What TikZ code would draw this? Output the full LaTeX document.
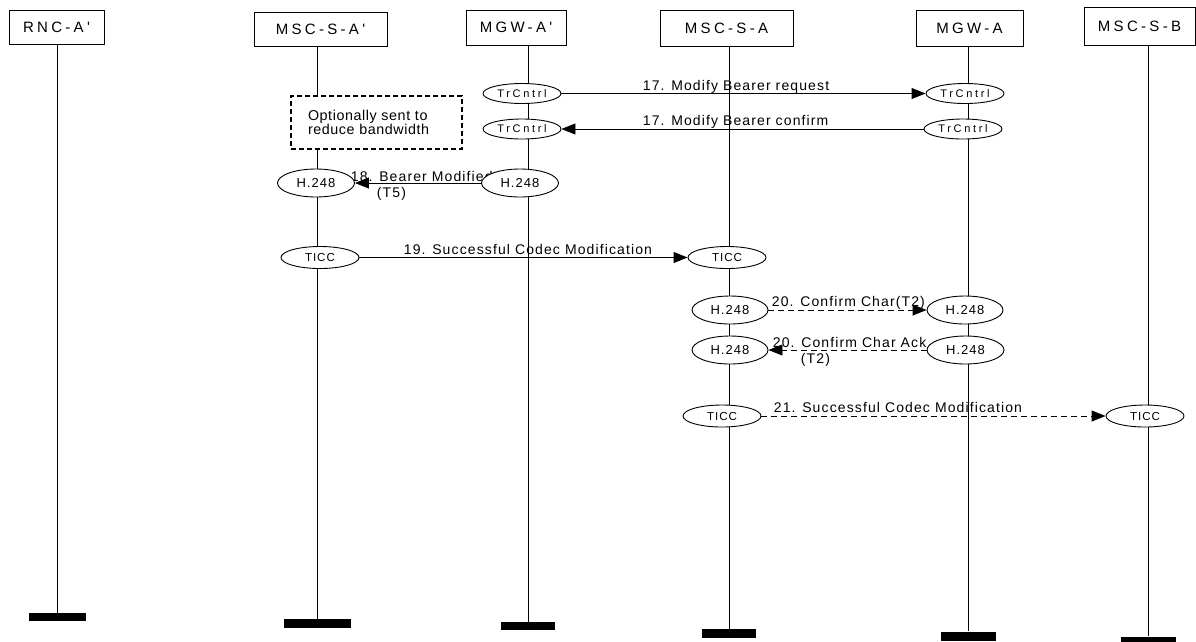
\documentclass[tikz,border=0pt]{standalone}
\usepackage{fontspec}
\newfontfamily\headfont{Liberation Sans}[LetterSpace=22,Ligatures=TeXOff]
\newfontfamily\msgfont{Liberation Sans}[LetterSpace=8]
\newfontfamily\trfont{Liberation Sans}[LetterSpace=24]
\newfontfamily\notefont{Liberation Sans}[LetterSpace=4]
\usetikzlibrary{arrows.meta,positioning,shapes.geometric}
\pgfdeclarelayer{back}
\pgfsetlayers{back,main}

\begin{document}
\begin{tikzpicture}[x=1pt,y=-1pt,
    entity/.style={draw, line width=0.9pt, inner sep=0pt, font=\headfont\fontsize{15}{16}\selectfont},
    func/.style={ellipse, draw, fill=white, line width=0.9pt, inner sep=0pt, font=\msgfont\fontsize{13}{14}\selectfont},
    trc/.style={func, minimum width=78pt, minimum height=20pt, font=\trfont\fontsize{11}{12}\selectfont},
    ticc/.style={func, minimum width=78pt, minimum height=22pt, font=\msgfont\fontsize{11.6}{12}\selectfont},
    endbar/.style={fill=black, inner sep=0pt},
    life/.style={line width=0.9pt},
    msg/.style={line width=0.9pt, -{Triangle[length=14pt,width=11pt]}},
    optmsg/.style={msg, dash pattern=on 6pt off 4pt},
    lbl/.style={inner sep=0pt, font=\msgfont\fontsize{14}{16}\selectfont},
    lblup/.style={lbl, anchor=south west, text depth=3pt},
    notebox/.style={draw, fill=white, line width=1.2pt, dash pattern=on 5pt off 3pt, inner sep=0pt,
      align=left, text width=137pt, font=\notefont\fontsize{14.3}{13.5}\selectfont}]
    \useasboundingbox (0,0) rectangle (1196,641);

    % entities
    \node[entity, minimum width=95pt, minimum height=34pt] (rnc) at (56.5,27) {RNC-A'};
    \node[entity, minimum width=133pt, minimum height=34pt] (mscap) at (320.5,29) {MSC-S-A'};
    \node[entity, minimum width=100pt, minimum height=35pt] (mgwap) at (516,27.5) {MGW-A'};
    \node[entity, minimum width=133pt, minimum height=36pt] (msca) at (726.5,28) {MSC-S-A};
    \node[entity, minimum width=107pt, minimum height=36pt] (mgwa) at (969.5,28) {MGW-A};
    \node[entity, minimum width=111pt, minimum height=38pt] (mscb) at (1139.5,26) {MSC-S-B};

    \node[endbar, minimum width=57pt, minimum height=8pt] (rncend) at (57,617) {};
    \node[endbar, minimum width=67pt, minimum height=9pt] (mscapend) at (317,623.5) {};
    \node[endbar, minimum width=54pt, minimum height=8pt] (mgwapend) at (528,626) {};
    \node[endbar, minimum width=54pt, minimum height=9pt] (mscaend) at (729,633.5) {};
    \node[endbar, minimum width=55pt, minimum height=9pt] (mgwaend) at (968,636) {};
    \node[endbar, minimum width=55pt, minimum height=9pt] (mscbend) at (1148,641) {};

    \node[notebox, minimum width=171pt, minimum height=53pt] (opt) at (376.5,122.5)
      {Optionally sent to\\reduce bandwidth};

    % functions on the lifelines
    \node[trc] (tc1) at (522,93.5) {TrCntrl};
    \node[trc] (tc2) at (965,93.5) {TrCntrl};
    \node[trc] (tc3) at (522,129) {TrCntrl};
    \node[trc] (tc4) at (963,129) {TrCntrl};
    \node[func, minimum width=77pt, minimum height=28pt] (h1) at (316,183) {H.248};
    \node[func, minimum width=77pt, minimum height=28pt] (h2) at (520,183) {H.248};
    \node[ticc] (ti1) at (320,257.5) {TICC};
    \node[ticc] (ti2) at (727,257.5) {TICC};
    \node[func, minimum width=76pt, minimum height=28pt] (h3) at (730,310) {H.248};
    \node[func, minimum width=76pt, minimum height=28pt] (h4) at (965,310) {H.248};
    \node[func, minimum width=76pt, minimum height=28pt] (h5) at (730,350) {H.248};
    \node[func, minimum width=77pt, minimum height=28pt] (h6) at (965.5,350) {H.248};
    \node[ticc] (ti3) at (722,416) {TICC};
    \node[ticc] (ti4) at (1145,416) {TICC};

    \begin{pgfonlayer}{back}
    \foreach \e in {rnc,mscap,mgwap,msca,mgwa,mscb}
      \draw[life] (\e end |- \e.south) -- (\e end);

    \draw[msg] (tc1) -- (tc2) node[lblup, at start, xshift=81pt] {17. Modify Bearer request};
    \draw[msg] (tc4) -- (tc3) node[lblup, at end, xshift=81pt] {17. Modify Bearer confirm};
    \draw[msg] (h2) -- (h1) node[lbl, at end, anchor=west, align=left, xshift=-4.5pt, yshift=-3pt]
      {18. Bearer Modified\\\hspace*{26pt}(T5)};
    \draw[msg] (ti1) -- (ti2) node[lblup, at start, xshift=44pt] {19. Successful Codec Modification};
    \draw[optmsg] (h3) -- (h4) node[lblup, at start, xshift=3pt] {20. Confirm Char(T2)};
    \draw[optmsg] (h6) -- (h5) node[lbl, at end, anchor=west, align=left, xshift=4pt, yshift=-2pt]
      {20. Confirm Char Ack\\\hspace*{28pt}(T2)};
    \draw[optmsg] (ti3) -- (ti4) node[lblup, at start, xshift=12pt] {21. Successful Codec Modification};
    \end{pgfonlayer}
\end{tikzpicture}
\end{document}
